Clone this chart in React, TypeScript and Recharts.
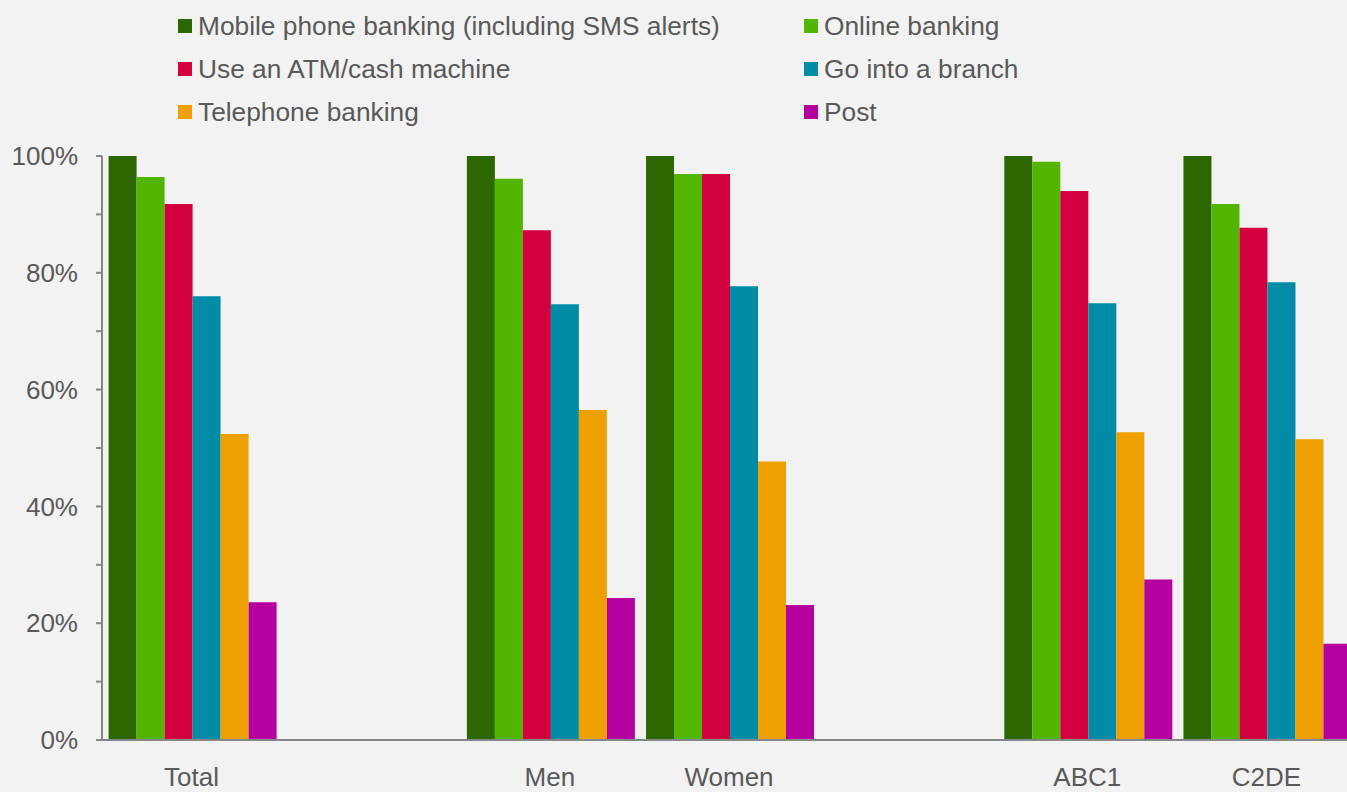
import { BarChart, Bar, XAxis, YAxis, Legend } from 'recharts';

const categories = ['Total', '', 'Men', 'Women', '', 'ABC1', 'C2DE'];

const mobileBanking = [100, null, 100, 100, null, 100, 100];
const onlineBanking = [96.4, null, 96.1, 96.9, null, 99.0, 91.8];
const atmMachine = [91.8, null, 87.3, 96.9, null, 94.0, 87.7];
const branchVisit = [76.0, null, 74.6, 77.7, null, 74.8, 78.4];
const telephoneBanking = [52.4, null, 56.5, 47.7, null, 52.7, 51.5];
const postBanking = [23.6, null, 24.3, 23.1, null, 27.5, 16.5];

const yTicks = [0, 10, 20, 30, 40, 50, 60, 70, 80, 90, 100];

const SERIES = [
  { key: 'mobile', name: 'Mobile phone banking (including SMS alerts)', color: '#2d6700', values: mobileBanking },
  { key: 'online', name: 'Online banking', color: '#52b500', values: onlineBanking },
  { key: 'atm', name: 'Use an ATM/cash machine', color: '#d2003f', values: atmMachine },
  { key: 'branch', name: 'Go into a branch', color: '#008ba6', values: branchVisit },
  { key: 'phone', name: 'Telephone banking', color: '#eda000', values: telephoneBanking },
  { key: 'post', name: 'Post', color: '#b5009f', values: postBanking },
];

const data = categories.map((name, i) => {
  const row: Record<string, string | number | null> = { name };
  SERIES.forEach(s => { row[s.key] = s.values[i]; });
  return row;
});

const TEXT = '#595959';
const AXIS = '#868686';
const FONT = '"Liberation Sans", Arial, sans-serif';

// legend laid out in two columns, three rows, like the original
function renderLegend() {
  return (
    <div style={{ position: 'relative', width: 1347, height: 156, fontFamily: FONT }}>
      {SERIES.map((s, i) => {
        const col = i % 2;
        const row = Math.floor(i / 2);
        const left = col === 0 ? 178 : 804;
        const top = 19 + row * 43;
        return (
          <div key={s.key} style={{ position: 'absolute', left, top, height: 14 }}>
            <span style={{ position: 'absolute', left: 0, top: 0, width: 14, height: 14, background: s.color }} />
            <span style={{ position: 'absolute', left: 20, top: -8, fontSize: 26.3, lineHeight: '30px', color: TEXT, whiteSpace: 'nowrap' }}>
              {s.name}
            </span>
          </div>
        );
      })}
    </div>
  );
}

export default function App() {
  return (
    <div style={{ position: 'fixed', left: 0, top: 0, width: 1347, height: 792, overflow: 'hidden', background: '#f2f2f2', fontFamily: FONT }}>
      <BarChart
        width={1356}
        height={792}
        data={data}
        margin={{ top: 0, right: 0, left: 1, bottom: 0 }}
        barCategoryGap={6.6}
        barGap={0}
      >
        <Legend
          verticalAlign="top"
          content={renderLegend}
          wrapperStyle={{ top: 0, left: 0, width: 1347, height: 156 }}
        />
        <XAxis
          dataKey="name"
          interval={0}
          tickLine={false}
          tickSize={0}
          tickMargin={28}
          height={52}
          axisLine={{ stroke: AXIS, strokeWidth: 2 }}
          tick={{ fontSize: 26, fill: TEXT, fontFamily: FONT }}
        />
        <YAxis
          width={101}
          domain={[0, 100]}
          ticks={yTicks}
          interval={0}
          tickFormatter={(v: number) => (v % 20 === 0 ? `${v}%` : '')}
          tickSize={6}
          tickMargin={18}
          tickLine={{ stroke: AXIS, strokeWidth: 2 }}
          axisLine={{ stroke: AXIS, strokeWidth: 2 }}
          tick={{ fontSize: 26, fill: TEXT, fontFamily: FONT }}
        />
        {SERIES.map(s => (
          <Bar key={s.key} dataKey={s.key} name={s.name} fill={s.color} isAnimationActive={false} />
        ))}
      </BarChart>
    </div>
  );
}
